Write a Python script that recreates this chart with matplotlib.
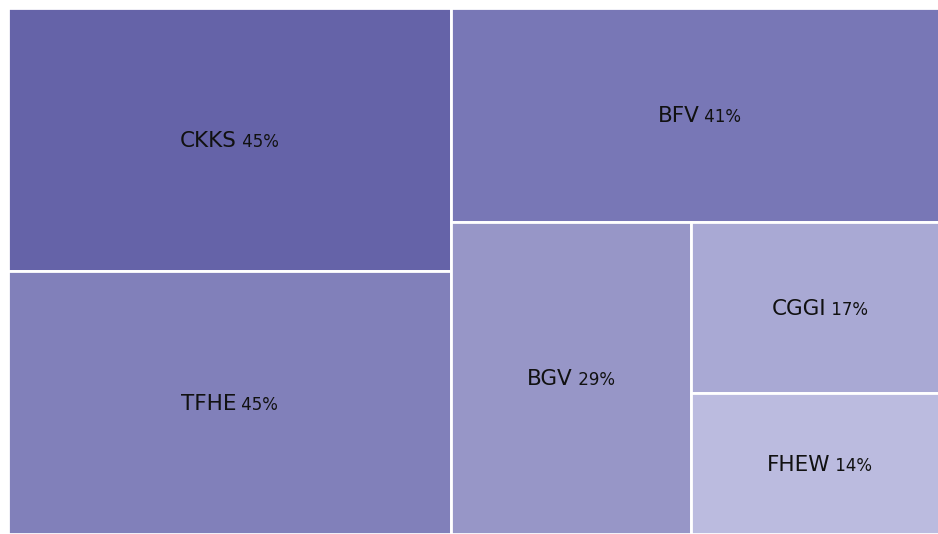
import matplotlib
matplotlib.use('Agg')
import matplotlib.pyplot as plt
from matplotlib.patches import Rectangle

# data
names = ['CKKS', 'TFHE', 'BFV', 'BGV', 'CGGI', 'FHEW']
values = [45, 45, 41, 29, 17, 14]
colors = ['#6563a8', '#8180ba', '#7877b6', '#9796c7', '#a9a9d4', '#bbbbdf']

# plot area in pixels (runs a bit past the right edge of the image)
W, H = 940, 526


def binary_tile(vals, x0, y0, x1, y1):
    # binary split treemap, same idea as d3.treemapBinary
    sums = [0]
    for v in vals:
        sums.append(sums[-1] + v)
    rects = [None] * len(vals)

    def part(i, j, value, x0, y0, x1, y1):
        if i >= j - 1:
            rects[i] = (x0, y0, x1, y1)
            return
        off = sums[i]
        target = value / 2 + off
        k, hi = i + 1, j - 1
        while k < hi:
            mid = (k + hi) // 2
            if sums[mid] < target:
                k = mid + 1
            else:
                hi = mid
        if (target - sums[k - 1]) < (sums[k] - target) and i + 1 < k:
            k -= 1
        vl = sums[k] - off
        vr = value - vl
        if (x1 - x0) > (y1 - y0):
            xk = (x0 * vr + x1 * vl) / value
            part(i, k, vl, x0, y0, xk, y1)
            part(k, j, vr, xk, y0, x1, y1)
        else:
            yk = (y0 * vr + y1 * vl) / value
            part(i, k, vl, x0, y0, x1, yk)
            part(k, j, vr, x0, yk, x1, y1)

    part(0, len(vals), sums[-1], x0, y0, x1, y1)
    return rects


fig = plt.figure(figsize=(9.38, 5.34), dpi=100)
ax = fig.add_axes([8 / 938, 0, W / 938, H / 534])
ax.set_xlim(0, W)
ax.set_ylim(H, 0)
ax.axis('off')

font = 'DejaVu Sans'
rects = binary_tile(values, 0, 0, W, H)
fig.canvas.draw()
r = fig.canvas.get_renderer()

for name, v, c, (x0, y0, x1, y1) in zip(names, values, colors, rects):
    ax.add_patch(Rectangle((x0, y0), x1 - x0, y1 - y0, facecolor=c,
                           edgecolor='white', linewidth=2))
    cx = (x0 + x1) / 2
    cy = (y0 + y1) / 2 + 7.5
    t1 = ax.text(cx, cy, name, fontsize=15.5, family=font, color='#111111',
                 ha='left', va='baseline')
    t2 = ax.text(cx, cy, f' {v}%', fontsize=12, family=font, color='#111111',
                 ha='left', va='baseline')
    w1 = t1.get_window_extent(r).width
    w2 = t2.get_window_extent(r).width
    left = cx - (w1 + w2) / 2
    t1.set_x(left)
    t2.set_x(left + w1)

fig.savefig('out.png', dpi=100)
